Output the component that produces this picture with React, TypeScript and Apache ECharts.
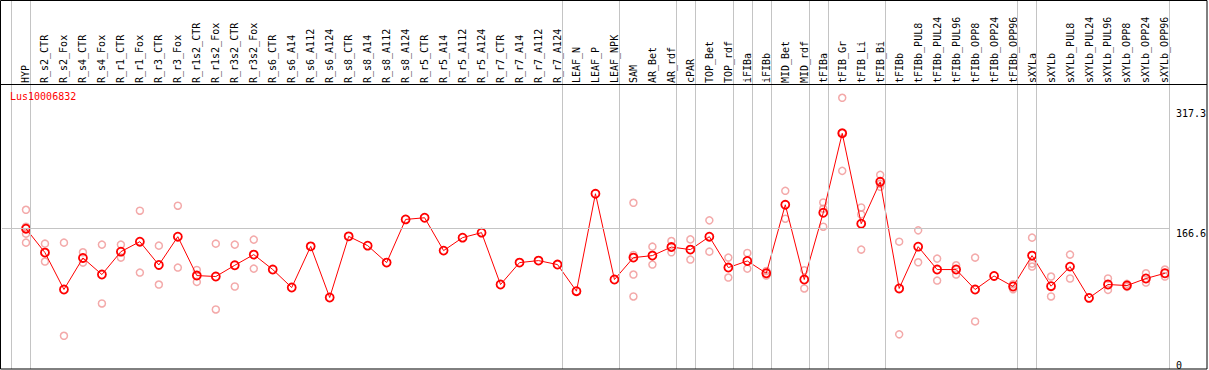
import React, { useEffect, useRef } from "react";
import * as echarts from "echarts";

const geneName = "Lus10006832";

const categories = [
  "HYP", "R_s2_CTR", "R_s2_Fox", "R_s4_CTR", "R_s4_Fox", "R_r1_CTR", "R_r1_Fox", "R_r3_CTR", "R_r3_Fox",
  "R_r1s2_CTR", "R_r1s2_Fox", "R_r3s2_CTR", "R_r3s2_Fox", "R_s6_CTR", "R_s6_A14", "R_s6_A112", "R_s6_A124",
  "R_s8_CTR", "R_s8_A14", "R_s8_A112", "R_s8_A124", "R_r5_CTR", "R_r5_A14", "R_r5_A112", "R_r5_A124",
  "R_r7_CTR", "R_r7_A14", "R_r7_A112", "R_r7_A124", "LEAF_N", "LEAF_P", "LEAF_NPK", "SAM", "AR_Bet", "AR_rdf",
  "cPAR", "TOP_Bet", "TOP_rdf", "iFIBa", "iFIBb", "MID_Bet", "MID_rdf", "tFIBa", "tFIB_Gr", "tFIB_Li", "tFIB_Bi",
  "tFIBb", "tFIBb_PUL8", "tFIBb_PUL24", "tFIBb_PUL96", "tFIBb_OPP8", "tFIBb_OPP24", "tFIBb_OPP96", "sXYLa",
  "sXYLb", "sXYLb_PUL8", "sXYLb_PUL24", "sXYLb_PUL96", "sXYLb_OPP8", "sXYLb_OPP24", "sXYLb_OPP96",
];

const meanValues = [
  165.8, 135.6, 89.0, 128.8, 107.9, 136.8, 149.4, 120.0, 155.7,
  106.6, 105.4, 119.6, 133.1, 114.2, 91.5, 143.5, 78.9,
  156.1, 144.4, 123.0, 177.5, 179.6, 138.1, 154.5, 160.8,
  95.3, 123.0, 125.5, 120.5, 86.9, 209.9, 101.6, 129.3, 131.8, 142.6,
  139.4, 155.7, 116.7, 125.0, 109.5, 196.0, 101.6, 185.9, 286.2, 172.1, 225.0,
  90.3, 143.1, 114.2, 114.2, 89.0, 106.1, 92.8, 131.8,
  93.2, 117.9, 78.4, 95.3, 94.0, 102.9, 109.5,
];

const replicates: number[][] = [
  [189.7, 168.3, 159.5, 148.2], [146.9, 124.3], [148.2, 30.6], [136.0, 123.0], [145.7, 71.4],
  [145.7, 129.3], [188.5, 110.4], [144.4, 95.3], [194.8, 116.7], [113.7, 98.6], [146.9, 63.8],
  [145.7, 92.8], [152.0, 115.4], [], [], [], [], [], [], [], [], [], [], [], [], [], [], [], [],
  [], [], [], [198.5, 132.6, 107.9, 80.2], [143.1, 120.5], [150.2, 136.0], [152.3, 126.8],
  [176.3, 136.8], [129.3, 104.1], [135.1, 115.4], [112.4, 106.6], [213.6, 178.4], [113.3, 90.3],
  [198.9, 191.0, 168.3], [331.1, 287.4, 238.8], [192.6, 183.8, 139.4], [233.8, 222.5, 218.7],
  [149.4, 32.4], [163.7, 123.4], [128.0, 100.3], [119.6, 107.9], [129.3, 48.7], [], [95.7, 89.4],
  [154.5, 121.7, 118.0], [105.4, 80.2], [133.1, 102.9], [], [102.9, 88.5], [96.1, 92.3],
  [109.5, 97.8], [114.2, 105.4],
];

const yTickValues = [0, 166.6, 317.3];
const yTickLabels = ["0", "166.6", "317.3"];
const referenceValue = 166.6;
// index of last category in each group (separator drawn just after it)
const groupEnds = [-1, 0, 28, 31, 34, 35, 37, 38, 39, 41, 42, 45, 52, 53, 60];

// layout
const W = 1209;
const H = 370;
const STEP = 19;
const X0 = 26; // pixel x of first category
const Y0 = 361; // pixel y of value 0
const YTOP = 109; // pixel y of 317.3
const SEP_OFF = 4.5 / STEP;
const FONT = "'DejaVu Sans Mono', monospace";

export default function App() {
  const ref = useRef<HTMLDivElement>(null);
  useEffect(() => {
    if (!ref.current) return;
    const chart = echarts.init(ref.current, undefined, { renderer: "svg" });
    const scale = (Y0 - YTOP) / 317.3;
    const xMin = (0 - X0) / STEP;
    const xMax = (W - X0) / STEP;
    const yMax = Y0 / scale;
    const yMin = (Y0 - H) / scale;

    const repData: number[][] = [];
    replicates.forEach((arr, i) => arr.forEach((v) => repData.push([i, v])));

    chart.setOption({
      animation: false,
      backgroundColor: "#ffffff",
      title: {
        text: geneName,
        left: 10,
        top: 91,
        padding: 0,
        textStyle: { color: "#ff0000", fontSize: 10, fontWeight: "normal", fontFamily: FONT },
      },
      grid: { left: 0, right: 0, top: 0, bottom: 0 },
      xAxis: {
        type: "value",
        position: "top",
        min: xMin,
        max: xMax,
        axisLine: { show: false },
        axisTick: { show: false },
        splitLine: { show: false },
        axisLabel: {
          customValues: categories.map((_, i) => i),
          inside: true,
          rotate: 90,
          margin: 83,
          align: "left",
          verticalAlign: "middle",
          color: "#000",
          fontSize: 10,
          fontFamily: FONT,
          formatter: (v: number) => {
            const i = Math.round(v);
            if (Math.abs(v - i) > 1e-6) return "";
            return categories[i] ?? "";
          },
        },
      },
      yAxis: {
        type: "value",
        position: "right",
        min: yMin,
        max: yMax,
        axisLine: { show: false },
        axisTick: { show: false },
        splitLine: { show: false },
        axisLabel: {
          customValues: yTickValues,
          inside: true,
          margin: 32,
          align: "left",
          verticalAlign: "top",
          color: "#000",
          fontSize: 10,
          fontFamily: FONT,
          formatter: (v: number) => {
            const idx = yTickValues.findIndex((t) => Math.abs(t - v) < 1e-6);
            return idx >= 0 ? yTickLabels[idx] : "";
          },
        },
      },
      graphic: [
        {
          type: "rect",
          shape: { x: 0.5, y: 0.5, width: 1206.5, height: 368.5 },
          style: { fill: "none", stroke: "#000", lineWidth: 1 },
          z: 100,
          silent: true,
        },
        {
          type: "line",
          shape: { x1: 0, y1: 84.5, x2: 1207, y2: 84.5 },
          style: { stroke: "#000", lineWidth: 1 },
          z: 100,
          silent: true,
        },
      ],
      series: [
        {
          type: "scatter",
          data: repData,
          symbol: "circle",
          symbolSize: 7,
          itemStyle: { color: "transparent", borderColor: "#f09494", borderWidth: 1.5 },
          clip: false,
          silent: true,
          z: 2,
          markLine: {
            silent: true,
            symbol: "none",
            label: { show: false },
            lineStyle: { color: "#c4c4c4", width: 1, type: "solid" },
            data: [
              ...groupEnds.map((k) => ({ xAxis: k + SEP_OFF })),
              [
                { coord: [(2 - X0) / STEP, referenceValue] },
                { coord: [60 + SEP_OFF, referenceValue] },
              ],
            ],
          },
        },
        {
          type: "line",
          data: meanValues.map((v, i) => [i, v]),
          symbol: "circle",
          symbolSize: 8,
          showAllSymbol: true,
          lineStyle: { color: "#ff0000", width: 1 },
          itemStyle: { color: "transparent", borderColor: "#ff0000", borderWidth: 1.8 },
          clip: false,
          silent: true,
          z: 3,
        },
      ],
    });
    return () => chart.dispose();
  }, []);
  return (
    <div
      ref={ref}
      style={{ position: "absolute", left: 0, top: 0, width: W, height: H, background: "#fff" }}
    />
  );
}
